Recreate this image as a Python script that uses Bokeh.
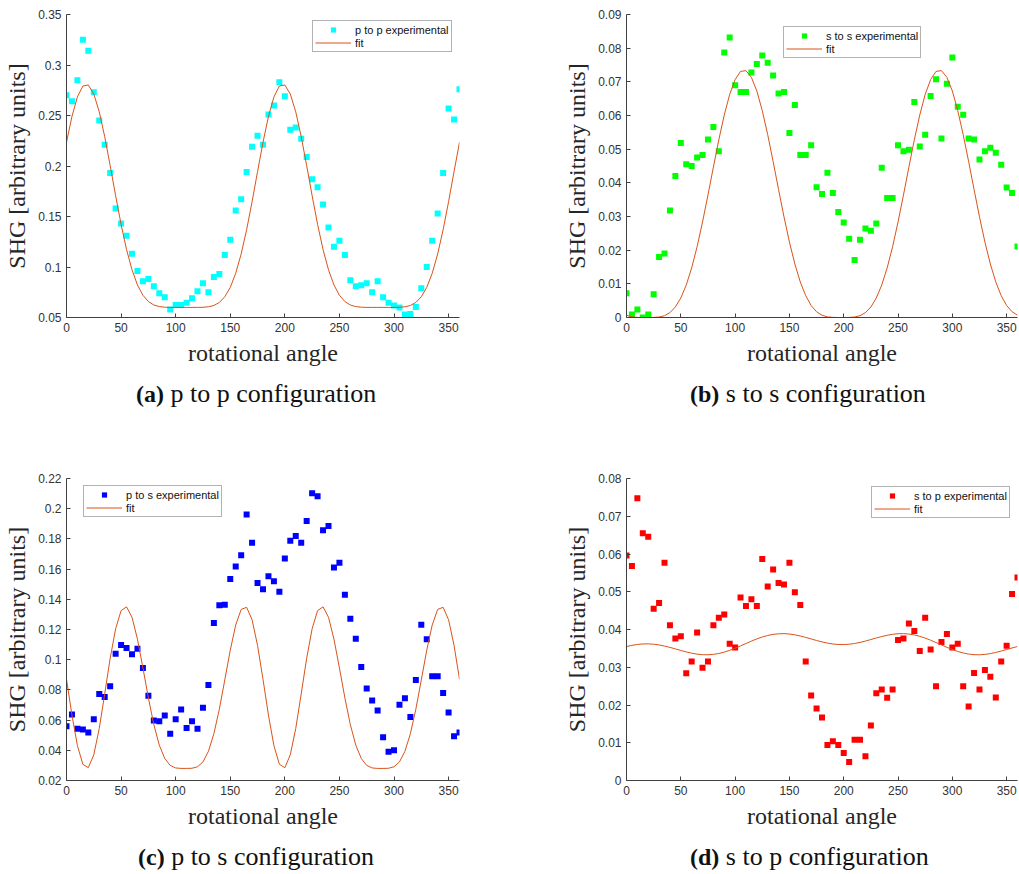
from bokeh.plotting import figure
from bokeh.layouts import column, row
from bokeh.models import Legend, LegendItem, FixedTicker, Range1d, Div
from bokeh.embed import file_html
from bokeh.resources import INLINE

angles = list(range(0, 361, 5))
x_ticks = [0, 50, 100, 150, 200, 250, 300, 350]

# ---- (a) p to p ----
pp_exp = [0.270, 0.264, 0.285, 0.325, 0.314, 0.273, 0.245, 0.221, 0.193, 0.158,
          0.143, 0.131, 0.113, 0.096, 0.086, 0.088, 0.081, 0.074, 0.070, 0.058,
          0.0625, 0.0625, 0.0645, 0.069, 0.076, 0.084, 0.075, 0.090, 0.093, 0.112,
          0.127, 0.156, 0.167, 0.194, 0.219, 0.230, 0.221, 0.251, 0.260, 0.283,
          0.269, 0.236, 0.238, 0.227, 0.209, 0.187, 0.179, 0.162, 0.139, 0.120,
          0.126, 0.112, 0.087, 0.081, 0.082, 0.084, 0.075, 0.086, 0.070, 0.0645,
          0.062, 0.060, 0.053, 0.0535, 0.0605, 0.079, 0.100, 0.126, 0.153, 0.193,
          0.257, 0.246, 0.276]
pp_fit = [0.2235, 0.2491, 0.2684, 0.2792, 0.2802, 0.2713, 0.2536, 0.2290, 0.2004, 0.1706,
          0.1422, 0.1173, 0.0972, 0.0822, 0.0720, 0.0658, 0.0624, 0.0608, 0.0602, 0.0600,
          0.0600, 0.0600, 0.0600, 0.0600, 0.0600, 0.0601, 0.0606, 0.0619, 0.0649, 0.0705,
          0.0798, 0.0938, 0.1129, 0.1369, 0.1647, 0.1944, 0.2235, 0.2491, 0.2684, 0.2792,
          0.2802, 0.2713, 0.2536, 0.2290, 0.2004, 0.1706, 0.1422, 0.1173, 0.0972, 0.0822,
          0.0720, 0.0658, 0.0624, 0.0608, 0.0602, 0.0600, 0.0600, 0.0600, 0.0600, 0.0600,
          0.0600, 0.0601, 0.0606, 0.0619, 0.0649, 0.0705, 0.0798, 0.0938, 0.1129, 0.1369,
          0.1647, 0.1944, 0.2235]
pp_y_ticks = [0.05, 0.1, 0.15, 0.2, 0.25, 0.3, 0.35]
pp_y_labels = ["0.05", "0.1", "0.15", "0.2", "0.25", "0.3", "0.35"]

# ---- (b) s to s ----
ss_exp = [0.0072, 0.0009, 0.0024, 0.0, 0.0009, 0.0069, 0.018, 0.019, 0.0318, 0.042,
          0.0518, 0.0455, 0.045, 0.0475, 0.0483, 0.0529, 0.0566, 0.0494, 0.0787, 0.0832,
          0.069, 0.067, 0.067, 0.0728, 0.0753, 0.0778, 0.0757, 0.0719, 0.0665, 0.067,
          0.0548, 0.0631, 0.0483, 0.0483, 0.0512, 0.0387, 0.0367, 0.043, 0.037, 0.0313,
          0.0282, 0.0234, 0.0171, 0.0231, 0.0264, 0.0258, 0.0279, 0.0445, 0.0355, 0.0355,
          0.0512, 0.0494, 0.0498, 0.064, 0.0508, 0.0543, 0.0658, 0.0708, 0.0532, 0.0694,
          0.0772, 0.0626, 0.0602, 0.0532, 0.0529, 0.0469, 0.0494, 0.0504, 0.0489, 0.0454,
          0.0386, 0.037, 0.0211]
ss_fit = [0.00067, 0.00019, 0.00003, 0.0, 0.0, 0.00002, 0.00014, 0.00054, 0.00145, 0.00312,
          0.00580, 0.00964, 0.01473, 0.02102, 0.02835, 0.03637, 0.04467, 0.05277, 0.06013, 0.06625,
          0.07068, 0.07310, 0.07332, 0.07133, 0.06728, 0.06147, 0.05432, 0.04633, 0.03802, 0.02991,
          0.02242, 0.01590, 0.01056, 0.00647, 0.00357, 0.00171, 0.00067, 0.00019, 0.00003, 0.0,
          0.0, 0.00002, 0.00014, 0.00054, 0.00145, 0.00312, 0.00580, 0.00964, 0.01473, 0.02102,
          0.02835, 0.03637, 0.04467, 0.05277, 0.06013, 0.06625, 0.07068, 0.07310, 0.07332, 0.07133,
          0.06728, 0.06147, 0.05432, 0.04633, 0.03802, 0.02991, 0.02242, 0.01590, 0.01056, 0.00647,
          0.00357, 0.00171, 0.00067]
ss_y_ticks = [0.0, 0.01, 0.02, 0.03, 0.04, 0.05, 0.06, 0.07, 0.08, 0.09]
ss_y_labels = ["0", "0.01", "0.02", "0.03", "0.04", "0.05", "0.06", "0.07", "0.08", "0.09"]

# ---- (c) p to s ----
ps_exp = [0.0559, 0.0637, 0.0542, 0.0537, 0.0518, 0.0606, 0.0773, 0.0753, 0.0824, 0.1040,
          0.1097, 0.1078, 0.1036, 0.1073, 0.0945, 0.0762, 0.0597, 0.0592, 0.0630, 0.0509,
          0.0606, 0.0670, 0.0548, 0.0592, 0.0542, 0.0681, 0.0833, 0.1243, 0.1360, 0.1364,
          0.1534, 0.1618, 0.1691, 0.1962, 0.1774, 0.1508, 0.1466, 0.1552, 0.1519, 0.1450,
          0.1671, 0.1788, 0.1819, 0.1774, 0.1918, 0.2103, 0.2083, 0.1858, 0.1885, 0.1611,
          0.1642, 0.1430, 0.1272, 0.1139, 0.0952, 0.0809, 0.0729, 0.0663, 0.0487, 0.0390,
          0.0401, 0.0701, 0.0745, 0.0621, 0.0866, 0.1232, 0.1135, 0.0890, 0.0890, 0.0780,
          0.0650, 0.0493, 0.0518]
ps_fit = [0.0870, 0.0633, 0.0431, 0.0307, 0.0285, 0.0370, 0.0545, 0.0774, 0.1009, 0.1205,
          0.1325, 0.1350, 0.1281, 0.1136, 0.0946, 0.0747, 0.0570, 0.0434, 0.0346, 0.0300,
          0.0283, 0.0280, 0.0280, 0.0281, 0.0291, 0.0323, 0.0393, 0.0510, 0.0672, 0.0866,
          0.1063, 0.1230, 0.1333, 0.1347, 0.1264, 0.1095, 0.0870, 0.0633, 0.0431, 0.0307,
          0.0285, 0.0370, 0.0545, 0.0774, 0.1009, 0.1205, 0.1325, 0.1350, 0.1281, 0.1136,
          0.0946, 0.0747, 0.0570, 0.0434, 0.0346, 0.0300, 0.0283, 0.0280, 0.0280, 0.0281,
          0.0291, 0.0323, 0.0393, 0.0510, 0.0672, 0.0866, 0.1063, 0.1230, 0.1333, 0.1347,
          0.1264, 0.1095, 0.0870]
ps_y_ticks = [0.02, 0.04, 0.06, 0.08, 0.1, 0.12, 0.14, 0.16, 0.18, 0.2, 0.22]
ps_y_labels = ["0.02", "0.04", "0.06", "0.08", "0.1", "0.12", "0.14", "0.16", "0.18", "0.2", "0.22"]

# ---- (d) s to p ----
sp_exp = [0.0596, 0.0568, 0.0748, 0.0655, 0.0646, 0.0455, 0.0470, 0.0577, 0.0411, 0.0376,
          0.0382, 0.0284, 0.0315, 0.0392, 0.0299, 0.0315, 0.0411, 0.0431, 0.0440, 0.0362,
          0.0352, 0.0485, 0.0462, 0.0480, 0.0462, 0.0587, 0.0514, 0.0559, 0.0523, 0.0519,
          0.0577, 0.0499, 0.0465, 0.0315, 0.0225, 0.0191, 0.0167, 0.0094, 0.0104, 0.0094,
          0.0073, 0.0049, 0.0108, 0.0108, 0.0064, 0.0146, 0.0231, 0.0241, 0.0219, 0.0241,
          0.0372, 0.0376, 0.0416, 0.0396, 0.0343, 0.0431, 0.0347, 0.0250, 0.0367, 0.0388,
          0.0352, 0.0362, 0.0250, 0.0196, 0.0285, 0.0241, 0.0293, 0.0275, 0.0220, 0.0315,
          0.0357, 0.0494, 0.0538]
sp_fit = [0.03549, 0.03580, 0.03604, 0.03617, 0.03620, 0.03610, 0.03591, 0.03562, 0.03526, 0.03486,
          0.03445, 0.03406, 0.03373, 0.03347, 0.03333, 0.03330, 0.03341, 0.03365, 0.03401, 0.03448,
          0.03504, 0.03565, 0.03629, 0.03692, 0.03751, 0.03801, 0.03842, 0.03871, 0.03887, 0.03890,
          0.03880, 0.03859, 0.03828, 0.03791, 0.03750, 0.03709, 0.03672, 0.03640, 0.03616, 0.03603,
          0.03601, 0.03610, 0.03629, 0.03658, 0.03694, 0.03734, 0.03775, 0.03814, 0.03847, 0.03873,
          0.03888, 0.03890, 0.03879, 0.03856, 0.03819, 0.03772, 0.03716, 0.03655, 0.03591, 0.03528,
          0.03470, 0.03419, 0.03378, 0.03349, 0.03333, 0.03330, 0.03340, 0.03362, 0.03392, 0.03429,
          0.03470, 0.03511, 0.03549]
sp_y_ticks = [0.0, 0.01, 0.02, 0.03, 0.04, 0.05, 0.06, 0.07, 0.08]
sp_y_labels = ["0", "0.01", "0.02", "0.03", "0.04", "0.05", "0.06", "0.07", "0.08"]

FIT_COLOR = "#D95319"
AX_COLOR = "#404040"


def make_panel(exp, fit, color, exp_label, y_ticks, y_labels, width, height,
               b_left, b_right, b_top, b_bottom, legend_xy):
    p = figure(width=width, height=height,
               x_range=Range1d(0, 360), y_range=Range1d(y_ticks[0], y_ticks[-1]),
               output_backend="svg", toolbar_location=None,
               min_border_left=b_left, min_border_right=b_right,
               min_border_top=b_top, min_border_bottom=b_bottom)
    p.grid.visible = False
    p.outline_line_color = None
    p.background_fill_color = "white"
    p.border_fill_color = "white"

    p.xaxis.ticker = FixedTicker(ticks=x_ticks)
    p.yaxis.ticker = FixedTicker(ticks=y_ticks)
    p.yaxis.major_label_overrides = {t: l for t, l in zip(y_ticks, y_labels)}
    for ax in (p.xaxis[0], p.yaxis[0]):
        ax.major_tick_in = 4
        ax.major_tick_out = 0
        ax.minor_tick_in = 0
        ax.minor_tick_out = 0
        ax.axis_line_color = AX_COLOR
        ax.major_tick_line_color = AX_COLOR
        ax.major_label_text_font = "Liberation Sans"
        ax.major_label_text_font_size = "12px"
        ax.major_label_text_color = "#333333"
        ax.axis_label_text_font = "Liberation Serif"
        ax.axis_label_text_font_style = "normal"
        ax.axis_label_text_color = "#262626"
    p.xaxis.axis_label = "rotational angle"
    p.xaxis.axis_label_text_font_size = "24px"
    p.yaxis.axis_label = "SHG [arbitrary units]"
    p.yaxis.axis_label_text_font_size = "24px"

    r1 = p.scatter(angles, exp, marker="square", size=6,
                   fill_color=color, line_color=None)
    r2 = p.line(angles, fit, line_color=FIT_COLOR, line_width=1)

    legend = Legend(items=[LegendItem(label=exp_label, renderers=[r1]),
                           LegendItem(label="fit", renderers=[r2])],
                    location=legend_xy, margin=0, padding=2, spacing=0,
                    glyph_width=36, glyph_height=13, label_height=13,
                    label_standoff=4,
                    label_text_font="Liberation Sans", label_text_font_size="11px",
                    label_text_color="#111111",
                    border_line_color="#666666", border_line_width=1,
                    background_fill_color="white", background_fill_alpha=1.0)
    p.add_layout(legend)
    return p


def make_caption(tag, caption, width, height, left):
    html = ('<div style="margin-left:%dpx; margin-top:3px; font-family:\'Liberation Serif\'; '
            'font-size:26px; line-height:30px; color:#111111; white-space:nowrap;">'
            '<b style="font-size:24px">%s</b> %s</div>') % (left, tag, caption)
    return Div(text=html, width=width, height=height, margin=0)


pa = make_panel(pp_exp, pp_fit, "#00FFFF", "p to p experimental", pp_y_ticks, pp_y_labels,
                510, 376, 66, 51, 14, 59, (246, 265))
pb = make_panel(ss_exp, ss_fit, "#00FF00", "s to s experimental", ss_y_ticks, ss_y_labels,
                509, 376, 116, 2, 14, 59, (157, 259))
pc = make_panel(ps_exp, ps_fit, "#0000FF", "p to s experimental", ps_y_ticks, ps_y_labels,
                510, 402, 66, 51, 41, 59, (17, 263))
pd = make_panel(sp_exp, sp_fit, "#FF0000", "s to p experimental", sp_y_ticks, sp_y_labels,
                509, 402, 116, 2, 41, 59, (245, 262))

ca = make_caption("(a)", "p to p configuration", 510, 61, 136)
cb = make_caption("(b)", "s to s configuration", 509, 61, 180)
cc = make_caption("(c)", "p to s configuration", 510, 35, 138)
cd = make_caption("(d)", "s to p configuration", 509, 35, 180)

layout = column(row(column(pa, ca), column(pb, cb)),
                row(column(pc, cc), column(pd, cd)))
open("out.html", "w").write(file_html(layout, INLINE))
